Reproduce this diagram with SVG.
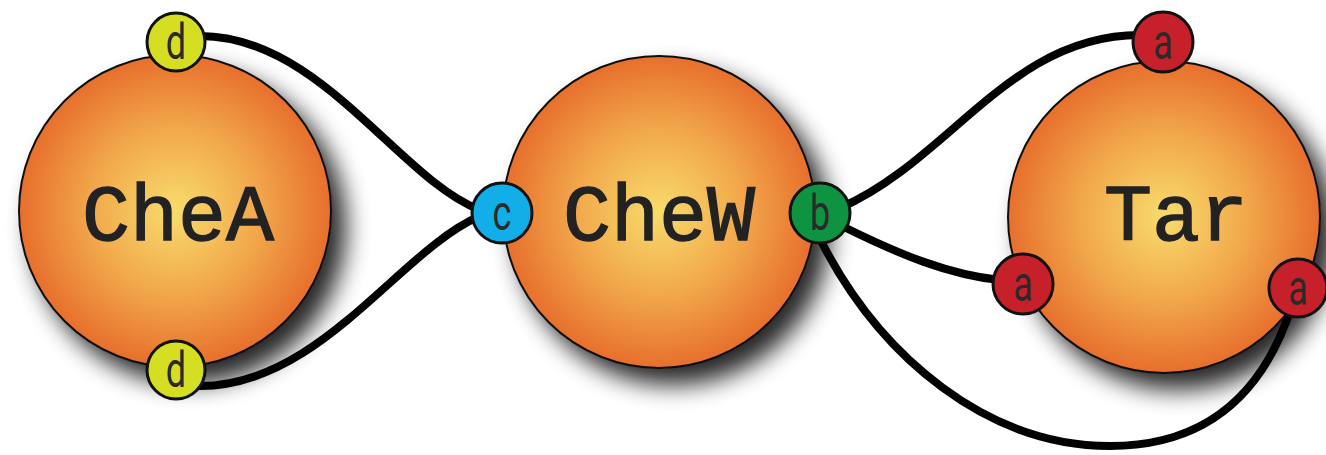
<svg xmlns="http://www.w3.org/2000/svg" width="1326" height="455" viewBox="0 0 1326 455">
  <defs>
    <radialGradient id="orb" cx="50%" cy="50%" r="50%">
      <stop offset="0" stop-color="#f8dc6c"/>
      <stop offset="0.55" stop-color="#f1a64a"/>
      <stop offset="1" stop-color="#e76f2c"/>
    </radialGradient>
    <filter id="shadow" x="-30%" y="-30%" width="170%" height="170%">
      <feGaussianBlur in="SourceAlpha" stdDeviation="12"/>
      <feOffset dx="14" dy="16" result="b"/>
      <feComponentTransfer in="b" result="s">
        <feFuncA type="linear" slope="0.85"/>
      </feComponentTransfer>
      <feMerge>
        <feMergeNode in="s"/>
        <feMergeNode in="SourceGraphic"/>
      </feMerge>
    </filter>
  </defs>
  <style>
    .body { fill: url(#orb); stroke: #111; stroke-width: 2; }
    .name { font-family: "Liberation Mono", "Courier New", monospace; font-size: 80px; fill: #222; stroke: #222; stroke-width: 1.4; text-anchor: middle; }
    .port { stroke: #111; stroke-width: 3; }
    .plabel { font-family: "Roboto", "DejaVu Sans", sans-serif; font-size: 50px; fill: #2a2a2a; text-anchor: middle; }
    .wire { fill: none; stroke: #000; stroke-width: 8; stroke-linecap: round; }
    .d { fill: #d6de24; }
    .c { fill: #11aee8; }
    .b { fill: #0e9441; }
    .a { fill: #c6202b; }
  </style>

  <!-- proteins -->
  <g id="CheA">
    <circle class="body" cx="175" cy="211" r="156" filter="url(#shadow)"/>
    <text class="name" x="178" y="240">CheA</text>
  </g>
  <g id="CheW">
    <circle class="body" cx="659" cy="212" r="156" filter="url(#shadow)"/>
    <text class="name" x="659" y="240">CheW</text>
  </g>
  <g id="Tar">
    <circle class="body" cx="1164" cy="217" r="156" filter="url(#shadow)"/>
    <text class="name" x="1176" y="240">Tar</text>
  </g>

  <!-- binding links -->
  <g id="connectors">
    <path class="wire" d="M 200 36 C 320 36, 400 180, 480 210"/>
    <path class="wire" d="M 200 386 C 320 386, 400 250, 480 216"/>
    <path class="wire" d="M 840 208 C 950 160, 1010 35, 1140 35"/>
    <path class="wire" d="M 840 225 C 900 255, 950 275, 1000 280"/>
    <path class="wire" d="M 818 235 C 880 360, 990 446, 1110 446 C 1210 446, 1265 390, 1292 305"/>
  </g>

  <!-- interaction sites; labels are narrowed horizontally -->
  <g id="port-d-top">
    <circle class="port d" cx="176" cy="42" r="29"/>
    <text class="plabel" transform="translate(176 59) scale(0.72 1)">d</text>
  </g>
  <g id="port-d-bottom">
    <circle class="port d" cx="176" cy="370" r="29"/>
    <text class="plabel" transform="translate(176 387) scale(0.72 1)">d</text>
  </g>
  <g id="port-c">
    <circle class="port c" cx="502" cy="213" r="30"/>
    <text class="plabel" transform="translate(502 230) scale(0.72 1)">c</text>
  </g>
  <g id="port-b">
    <circle class="port b" cx="820" cy="213" r="30"/>
    <text class="plabel" transform="translate(820 230) scale(0.72 1)">b</text>
  </g>
  <g id="port-a-top">
    <circle class="port a" cx="1163" cy="42" r="30"/>
    <text class="plabel" transform="translate(1163 59) scale(0.72 1)">a</text>
  </g>
  <g id="port-a-left">
    <circle class="port a" cx="1023" cy="284" r="30"/>
    <text class="plabel" transform="translate(1023 301) scale(0.72 1)">a</text>
  </g>
  <g id="port-a-right">
    <circle class="port a" cx="1298" cy="288" r="29"/>
    <text class="plabel" transform="translate(1298 305) scale(0.72 1)">a</text>
  </g>
</svg>
